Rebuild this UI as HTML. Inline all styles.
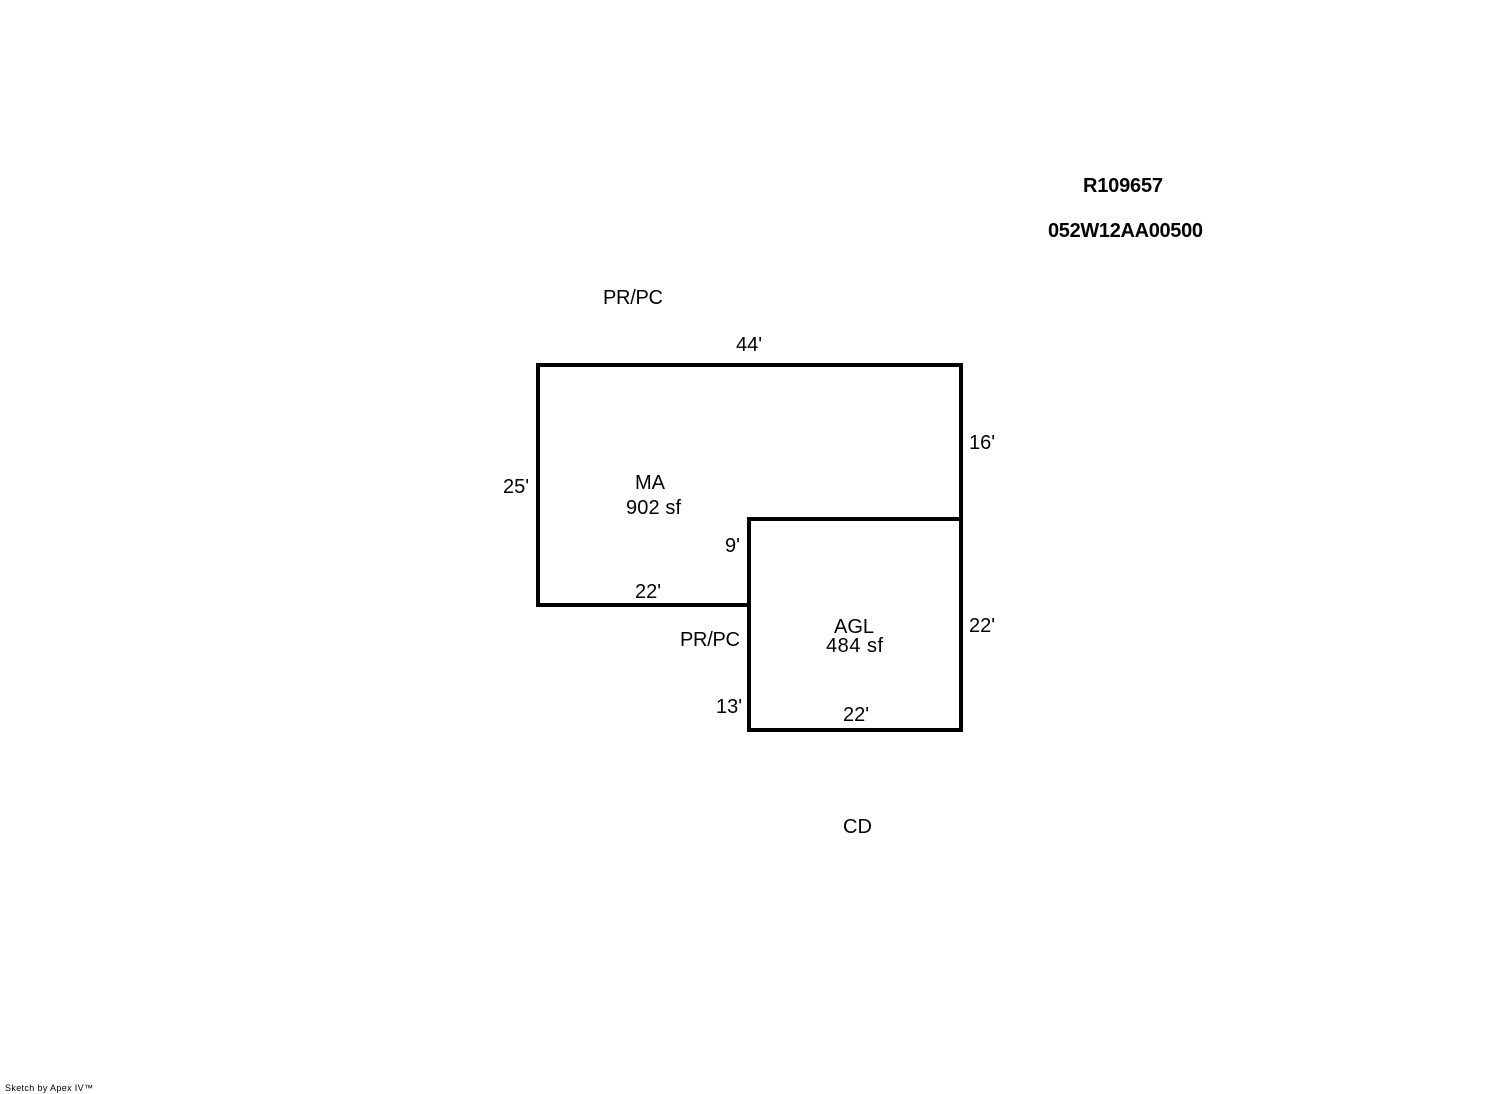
<!DOCTYPE html>
<html>
<head>
<meta charset="utf-8">
<style>
html,body{margin:0;padding:0;background:#fff;width:1492px;height:1094px;overflow:hidden}
svg{display:block}
text{font-family:"Liberation Sans",Arial,sans-serif;font-size:20px;fill:#000}
.b{font-weight:bold}
</style>
</head>
<body>
<svg width="1492" height="1094" viewBox="0 0 1492 1094" xmlns="http://www.w3.org/2000/svg">
<rect width="1492" height="1094" fill="#fff"/>
<g fill="none" stroke="#000" stroke-width="4" stroke-linecap="square" shape-rendering="crispEdges">
<path d="M538 365H961V730H749V605H538Z"/>
<path d="M749 605V519H961"/>
</g>
<text class="b" x="1083" y="192" textLength="80" lengthAdjust="spacing">R109657</text>
<text class="b" x="1048" y="237" textLength="155" lengthAdjust="spacing">052W12AA00500</text>
<text x="603" y="304" textLength="60" lengthAdjust="spacing">PR/PC</text>
<text x="736" y="351">44'</text>
<text x="969" y="449">16'</text>
<text x="503" y="493">25'</text>
<text x="635" y="489">MA</text>
<text x="626" y="514" textLength="55" lengthAdjust="spacing">902 sf</text>
<text x="725" y="552">9'</text>
<text x="635" y="598">22'</text>
<text x="680" y="646" textLength="60" lengthAdjust="spacing">PR/PC</text>
<text x="834" y="633">AGL</text>
<text x="826" y="652" textLength="57" lengthAdjust="spacing">484 sf</text>
<text x="969" y="632">22'</text>
<text x="716" y="713">13'</text>
<text x="843" y="721">22'</text>
<text x="843" y="833">CD</text>
<text x="5" y="1091" style="font-size:9px" textLength="88" lengthAdjust="spacing">Sketch by Apex IV™</text>
</svg>
</body>
</html>
